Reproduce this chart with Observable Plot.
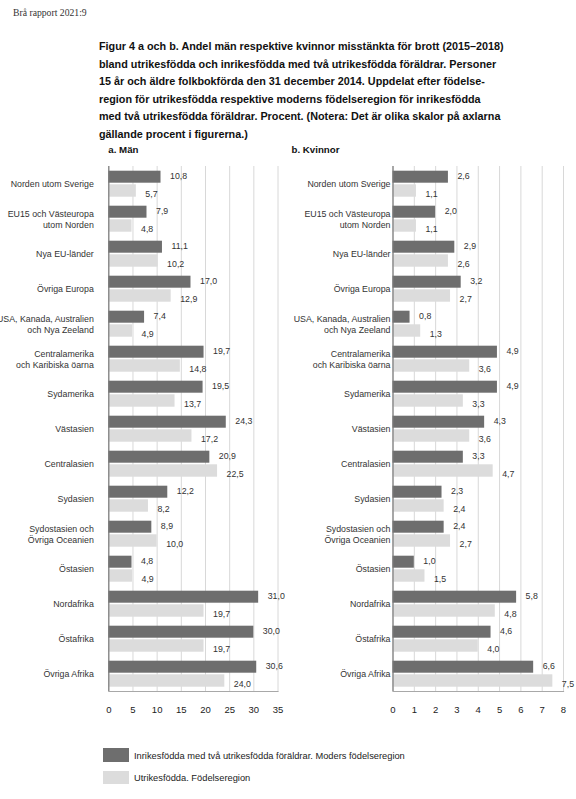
<!DOCTYPE html>
<html>
<head>
<meta charset="utf-8">
<script src="https://cdn.jsdelivr.net/npm/d3@7"></script>
<script src="https://cdn.jsdelivr.net/npm/@observablehq/plot@0.6"></script>
<style>
  html, body { margin: 0; padding: 0; background: #fff; }
  body { width: 576px; height: 799px; position: relative; overflow: hidden; font-family: "Liberation Sans", Arial, Helvetica, sans-serif; color: #222; }
  .abs { position: absolute; white-space: nowrap; }
  #header { left: 13px; top: 6px; font-family: "Liberation Serif", "Times New Roman", serif; font-size: 9.7px; line-height: 13px; color: #333; }
  #title { left: 99px; top: 38px; font-weight: bold; font-size: 10.8px; line-height: 17.6px; color: #111; }
  .ptitle { font-weight: bold; font-size: 9.7px; line-height: 12px; top: 144px; color: #111; }
  #pa { left: 108.3px; }
  #pb { left: 291.5px; }
  #men { left: 0; top: 160px; }
  #women { left: 290px; top: 160px; }
  .sw { position: absolute; width: 26px; height: 13.4px; }
  .lt { position: absolute; font-size: 9.3px; line-height: 12px; color: #222; white-space: nowrap; }
</style>
</head>
<body>
<div id="header" class="abs">Brå rapport 2021:9</div>
<div id="title" class="abs">Figur 4 a och b. Andel män respektive kvinnor misstänkta för brott (2015–2018)<br>bland utrikesfödda och inrikesfödda med två utrikesfödda föräldrar. Personer<br>15 år och äldre folkbokförda den 31 december 2014. Uppdelat efter födelse-<br>region för utrikesfödda respektive moderns födelseregion för inrikesfödda<br>med två utrikesfödda föräldrar. Procent. (Notera: Det är olika skalor på axlarna<br>gällande procent i figurerna.)</div>
<div id="pa" class="abs ptitle">a. Män</div>
<div id="pb" class="abs ptitle">b. Kvinnor</div>
<div id="men" class="abs"></div>
<div id="women" class="abs"></div>
<div class="sw" style="left:102.7px; top:748.3px; background:#6e6e6e;"></div>
<div class="lt" style="left:134px; top:749.7px;">Inrikesfödda med två utrikesfödda föräldrar. Moders födelseregion</div>
<div class="sw" style="left:102.7px; top:770.7px; background:#dcdcdc;"></div>
<div class="lt" style="left:134px; top:772.3px;">Utrikesfödda. Födelseregion</div>

<script>
// ---- Data ----
const categories = [
  "Norden utom Sverige",
  "EU15 och Västeuropa\nutom Norden",
  "Nya EU-länder",
  "Övriga Europa",
  "USA, Kanada, Australien\noch Nya Zeeland",
  "Centralamerika\noch Karibiska öarna",
  "Sydamerika",
  "Västasien",
  "Centralasien",
  "Sydasien",
  "Sydostasien och\nÖvriga Oceanien",
  "Östasien",
  "Nordafrika",
  "Östafrika",
  "Övriga Afrika"
];
// Inrikesfödda med två utrikesfödda föräldrar (dark) / Utrikesfödda (light)
const menInrikes   = [10.8, 7.9, 11.1, 17.0, 7.4, 19.7, 19.5, 24.3, 20.9, 12.2, 8.9, 4.8, 31.0, 30.0, 30.6];
const menUtrikes   = [5.7, 4.8, 10.2, 12.9, 4.9, 14.8, 13.7, 17.2, 22.5, 8.2, 10.0, 4.9, 19.7, 19.7, 24.0];
const womenInrikes = [2.6, 2.0, 2.9, 3.2, 0.8, 4.9, 4.9, 4.3, 3.3, 2.3, 2.4, 1.0, 5.8, 4.6, 6.6];
const womenUtrikes = [1.1, 1.1, 2.6, 2.7, 1.3, 3.6, 3.3, 3.6, 4.7, 2.4, 2.7, 1.5, 4.8, 4.0, 7.5];
const menTicks   = [0, 5, 10, 15, 20, 25, 30, 35];
const womenTicks = [0, 1, 2, 3, 4, 5, 6, 7, 8];

const DARK = "#6e6e6e", LIGHT = "#dcdcdc";
const fmt = v => d3.format(".1f")(v).replace(".", ",");

function panel(inr, utr, ticks, opt) {
  const data = categories.map((c, i) => ({cat: c, inr: inr[i], utr: utr[i]}));
  const keys = categories.flatMap(c => [c + "|d", c + "|l"]);
  return Plot.plot({
    width: opt.width,
    height: 560,
    marginLeft: opt.marginLeft,
    marginRight: opt.marginRight,
    marginTop: 6,
    marginBottom: 29,
    style: {fontFamily: '"Liberation Sans", Arial, Helvetica, sans-serif', color: "#222", background: "transparent", overflow: "visible"},
    x: {domain: [ticks[0], ticks[ticks.length - 1]]},
    y: {type: "band", domain: keys, padding: 0, round: false, axis: null},
    marks: [
      Plot.gridX({ticks, stroke: "#d8d8d8", strokeOpacity: 1, strokeWidth: 1}),
      Plot.barX(data, {y: d => d.cat + "|d", x: "inr", fill: DARK, insetTop: 4.7, insetBottom: 0.8}),
      Plot.barX(data, {y: d => d.cat + "|l", x: "utr", fill: LIGHT, insetTop: 0.8, insetBottom: 4.3}),
      Plot.text(data, {y: d => d.cat + "|d", x: "inr", text: d => fmt(d.inr), dx: 9, dy: 0.6, textAnchor: "start", fontSize: 8.8, fill: "#333"}),
      Plot.text(data, {y: d => d.cat + "|l", x: "utr", text: d => fmt(d.utr), dx: 9, dy: 1.6, textAnchor: "start", fontSize: 8.8, fill: "#333"}),
      Plot.text(categories, {y: d => d + "|d", text: d => d, frameAnchor: "left", dx: -opt.labelDx, dy: 8.75, textAnchor: "end", lineHeight: 1.2, fontSize: 8.8, fill: "#333"}),
      Plot.ruleX([0], {stroke: "#7a7a7a", strokeWidth: 1.2}),
      Plot.frame({anchor: "bottom", stroke: "#a8a8a8", strokeWidth: 1.2}),
      Plot.axisX({ticks, tickSize: 0, tickPadding: 15, tickFormat: d => String(d), fontSize: 9.5, fill: "#222", label: null})
    ]
  });
}

document.getElementById("men").appendChild(
  panel(menInrikes, menUtrikes, menTicks, {width: 290, marginLeft: 108.3, marginRight: 12.5, labelDx: 15})
);
document.getElementById("women").appendChild(
  panel(womenInrikes, womenUtrikes, womenTicks, {width: 286, marginLeft: 102.5, marginRight: 13, labelDx: 2.5})
);
</script>
</body>
</html>
